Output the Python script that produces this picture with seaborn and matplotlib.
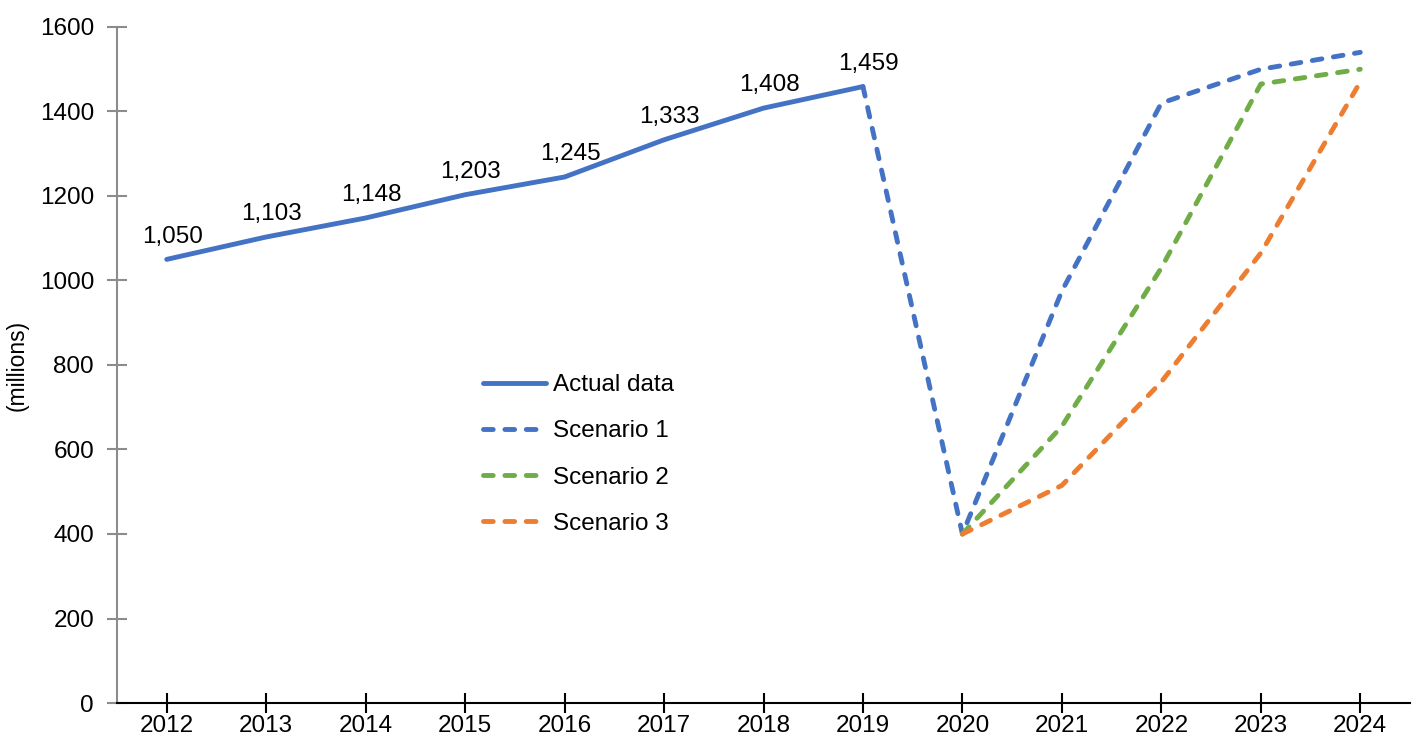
import matplotlib
matplotlib.use("Agg")
import matplotlib.pyplot as plt
import pandas as pd
import seaborn as sns

years = list(range(2012, 2025))
actual_years = list(range(2012, 2020))
actual = [1050, 1103, 1148, 1203, 1245, 1333, 1408, 1459]
s1_years = list(range(2019, 2025))
scenario1 = [1459, 400, 975, 1420, 1500, 1540]
s23_years = list(range(2020, 2025))
scenario2 = [400, 655, 1030, 1465, 1500]
scenario3 = [400, 515, 760, 1065, 1470]

blue = "#4472C4"
green = "#70AD47"
orange = "#ED7D31"

sns.set_style("white")
plt.rcParams["font.family"] = ["Liberation Sans", "DejaVu Sans"]
plt.rcParams["text.color"] = "black"

fig = plt.figure(figsize=(14.21, 7.46), dpi=100)
ax = fig.add_axes([117 / 1421, 43 / 746, 1293 / 1421, 676 / 746])

df_a = pd.DataFrame({"year": actual_years, "value": actual})
df_1 = pd.DataFrame({"year": s1_years, "value": scenario1})
df_2 = pd.DataFrame({"year": s23_years, "value": scenario2})
df_3 = pd.DataFrame({"year": s23_years, "value": scenario3})

lw = 3.5
dash = (2.0, 2.4)
sns.lineplot(data=df_a, x="year", y="value", ax=ax, color=blue, lw=lw,
             label="Actual data")
sns.lineplot(data=df_1, x="year", y="value", ax=ax, color=blue, lw=lw,
             label="Scenario 1")
sns.lineplot(data=df_2, x="year", y="value", ax=ax, color=green, lw=lw,
             label="Scenario 2")
sns.lineplot(data=df_3, x="year", y="value", ax=ax, color=orange, lw=lw,
             label="Scenario 3")
ax.lines[0].set_solid_capstyle("round")
for ln in ax.lines[1:]:
    ln.set_linestyle((0, dash))
    ln.set_dash_capstyle("round")

for x, v in zip(actual_years, actual):
    ax.annotate(f"{v:,}", (x, v), xytext=(4, 8.5), textcoords="offset points",
                ha="center", va="bottom", fontsize=17.5, color="black")

ax.set_xlim(2011.5, 2024.5)
ax.set_ylim(0, 1600)
ax.set_xticks(years)
ax.set_xticklabels([str(y) for y in years])
ax.set_yticks(range(0, 1601, 200))
ax.tick_params(axis="both", labelsize=17.5, labelcolor="black", bottom=True, left=True)
ax.tick_params(axis="x", direction="inout", length=14, width=1.5, color="black", pad=2)
ax.tick_params(axis="y", direction="inout", length=15, width=1.5, color="#8c8c8c", pad=9)
for side in ["top", "right"]:
    ax.spines[side].set_visible(False)
ax.spines["left"].set_color("#8c8c8c")
ax.spines["left"].set_linewidth(1.5)
ax.spines["bottom"].set_color("black")
ax.spines["bottom"].set_linewidth(1.5)
ax.set_xlabel("")
ax.set_ylabel("(millions)", fontsize=16.5, labelpad=8, color="black")

leg = ax.legend(loc="upper left", bbox_to_anchor=(0.266, 0.519), frameon=False,
                fontsize=17.5, handlelength=2.6, labelspacing=1.0, handletextpad=0.3)
for t in leg.get_texts():
    t.set_color("black")
for h in leg.get_lines()[1:]:
    h.set_dash_capstyle("round")

fig.savefig("out.png", dpi=100)
